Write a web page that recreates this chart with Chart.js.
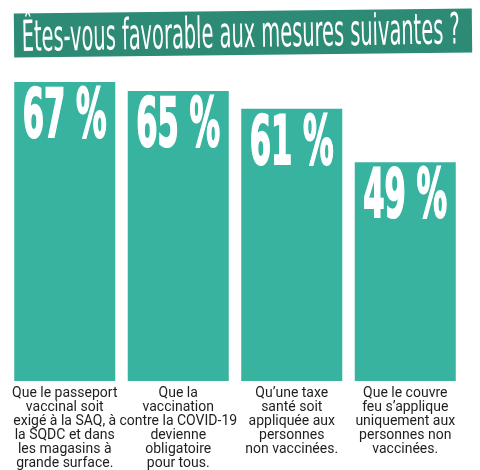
<!DOCTYPE html>
<html>
<head>
<meta charset="utf-8">
<script src="https://cdn.jsdelivr.net/npm/chart.js@4/dist/chart.umd.min.js"></script>
<style>
  html, body { margin: 0; padding: 0; background: #fff; }
  #wrap { width: 480px; height: 470px; }
</style>
</head>
<body>
<div id="wrap"><canvas id="chart" width="480" height="470"></canvas></div>
<script>
// data
const title = 'Êtes-vous favorable aux mesures suivantes ?';
const categories = [
  ['Que le passeport', 'vaccinal soit', 'exigé à la SAQ, à', 'la SQDC et dans', 'les magasins à', 'grande surface.'],
  ['Que la', 'vaccination', 'contre la COVID-19', 'devienne', 'obligatoire', 'pour tous.'],
  ['Qu’une taxe', 'santé soit', 'appliquée aux', 'personnes', 'non vaccinées.'],
  ['Que le couvre', 'feu s’applique', 'uniquement aux', 'personnes non', 'vaccinées.']
];
const values = [67, 65, 61, 49];
const yMax = 70;

const barColor = '#37b3a0';
const bannerColor = '#2c8a75';
const narrow = '"Liberation Sans Narrow", "DejaVu Sans Condensed", "Liberation Sans", sans-serif';

// title banner, slightly tilted like the print original
const bannerPlugin = {
  id: 'banner',
  beforeDraw(chart) {
    const ctx = chart.ctx;
    ctx.save();
    ctx.translate(243, 33);
    ctx.rotate(-0.6 * Math.PI / 180);
    ctx.fillStyle = bannerColor;
    ctx.fillRect(-229, -22, 458, 44);
    ctx.restore();

    ctx.save();
    ctx.translate(22, 51);
    ctx.rotate(-1.0 * Math.PI / 180);
    ctx.font = '43px ' + narrow;
    const w = ctx.measureText(title).width;
    ctx.scale(438 / w, 1);
    ctx.fillStyle = '#fff';
    ctx.textBaseline = 'alphabetic';
    ctx.fillText(title, 0, 0);
    ctx.restore();
  }
};

// big percentages inside the top of each bar
const valueLabels = {
  id: 'valueLabels',
  afterDatasetsDraw(chart) {
    const ctx = chart.ctx;
    const meta = chart.getDatasetMeta(0);
    ctx.save();
    ctx.font = 'bold 68px ' + narrow;
    const ref = ctx.measureText('67 %').width;
    meta.data.forEach((bar, i) => {
      const s = (0.83 * bar.width) / ref;
      const txt = values[i] + ' %';
      ctx.save();
      ctx.translate(bar.x, bar.y + 55);
      ctx.scale(s, 1);
      ctx.fillStyle = '#fff';
      ctx.strokeStyle = '#fff';
      ctx.lineWidth = 2;
      ctx.textAlign = 'center';
      ctx.textBaseline = 'alphabetic';
      ctx.strokeText(txt, 0, 0);
      ctx.fillText(txt, 0, 0);
      ctx.restore();
    });
    ctx.restore();
  }
};

new Chart(document.getElementById('chart'), {
  type: 'bar',
  data: {
    labels: categories,
    datasets: [{
      data: values,
      backgroundColor: barColor,
      borderWidth: 0,
      barPercentage: 0.89,
      categoryPercentage: 1
    }]
  },
  options: {
    responsive: false,
    animation: false,
    layout: { padding: { top: 68.6, left: 8, right: 18, bottom: 0 } },
    plugins: { legend: { display: false }, tooltip: { enabled: false } },
    scales: {
      y: { display: false, min: 0, max: yMax },
      x: {
        grid: { display: false, drawTicks: false },
        border: { display: false },
        afterFit(scale) { scale.height = 89; },
        ticks: {
          autoSkip: false,
          maxRotation: 0,
          padding: 5,
          color: '#1e1e1e',
          font: { family: 'Roboto, "Open Sans", sans-serif', size: 14, lineHeight: 1.0 }
        }
      }
    }
  },
  plugins: [bannerPlugin, valueLabels]
});
</script>
</body>
</html>
